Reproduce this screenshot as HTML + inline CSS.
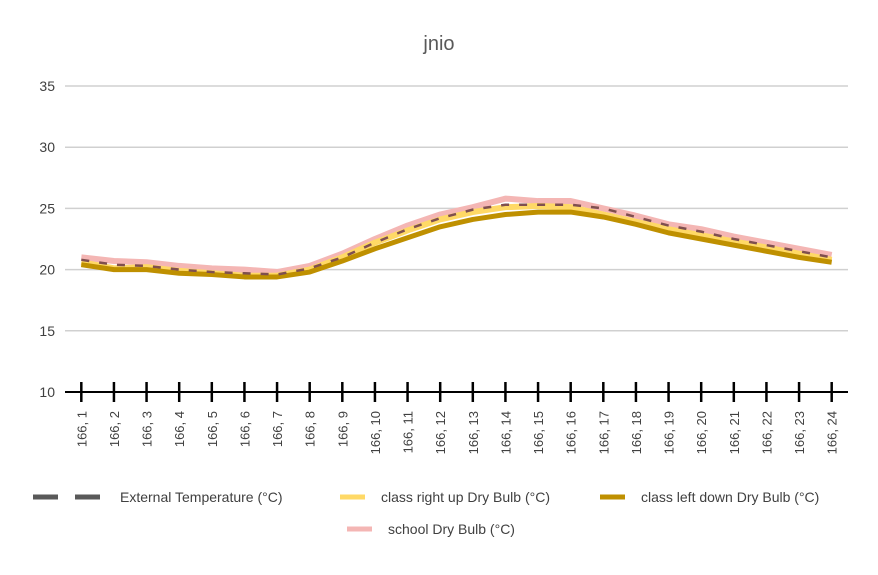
<!DOCTYPE html>
<html><head><meta charset="utf-8"><style>
body{margin:0;background:#fff;font-family:"Liberation Sans",sans-serif}
svg text{font-family:"Liberation Sans",sans-serif}
</style></head><body>
<svg id="c" width="878" height="570" xmlns="http://www.w3.org/2000/svg">
<rect width="878" height="570" fill="#fff"/>
<text x="439" y="50" text-anchor="middle" font-size="20" fill="#595959">jnio</text>
<g id="grid"></g><g id="series"></g><g id="axis"></g>
<g id="legend" font-size="14" fill="#404040">
<g><line x1="33" y1="497" x2="103" y2="497" stroke="#595959" stroke-width="5" stroke-dasharray="25,17"/><text x="120" y="502">External Temperature (°C)</text></g>
<g><line x1="340" y1="497" x2="365" y2="497" stroke="#ffd966" stroke-width="5"/><text x="381" y="502">class right up Dry Bulb (°C)</text></g>
<g><line x1="600" y1="497" x2="625" y2="497" stroke="#bf9000" stroke-width="5"/><text x="641" y="502">class left down Dry Bulb (°C)</text></g>
<g><line x1="347" y1="529" x2="372" y2="529" stroke="#f4b6b4" stroke-width="5"/><text x="388" y="534">school Dry Bulb (°C)</text></g>
</g>
</svg>
<script>
const categories=["166, 1","166, 2","166, 3","166, 4","166, 5","166, 6","166, 7","166, 8","166, 9","166, 10","166, 11","166, 12","166, 13","166, 14","166, 15","166, 16","166, 17","166, 18","166, 19","166, 20","166, 21","166, 22","166, 23","166, 24"];
const yTicks=[10,15,20,25,30,35];
const schoolVals=[21.0,20.7,20.6,20.3,20.1,20.0,19.8,20.3,21.3,22.5,23.6,24.5,25.1,25.8,25.6,25.6,25.0,24.4,23.7,23.3,22.7,22.2,21.7,21.2];
const externalVals=[20.8,20.4,20.3,20.0,19.8,19.7,19.6,20.1,21.0,22.2,23.3,24.2,24.9,25.3,25.3,25.3,25.0,24.3,23.6,23.1,22.5,22.0,21.5,21.0];
const rightUpVals=[20.6,20.1,20.2,19.9,19.7,19.5,19.5,20.0,21.0,22.2,23.2,24.1,24.7,25.1,25.2,25.1,24.5,23.9,23.3,22.8,22.3,21.8,21.3,20.8];
const leftDownVals=[20.4,20.0,20.0,19.7,19.6,19.4,19.4,19.8,20.7,21.7,22.6,23.5,24.1,24.5,24.7,24.7,24.3,23.7,23.0,22.5,22.0,21.5,21.0,20.6];
const NS="http://www.w3.org/2000/svg";
const x0=65,x1=848,yMin=10,yMax=35,py0=392,py1=86;
const step=(x1-x0)/categories.length;
function X(i){return x0+step*(i+0.5);}
function Y(v){return py0-(v-yMin)/(yMax-yMin)*(py0-py1);}
function mk(t,a,p){const e=document.createElementNS(NS,t);for(const k in a)e.setAttribute(k,a[k]);p.appendChild(e);return e;}
const grid=document.getElementById('grid'),axis=document.getElementById('axis'),ser=document.getElementById('series');
yTicks.forEach(v=>{
 if(v!==yMin){const l=mk('line',{x1:x0,x2:x1,y1:Y(v),y2:Y(v),stroke:'#d0d0d0','stroke-width':1.5},grid);
 
 }
 const t=mk('text',{x:55,y:Y(v)+5,'text-anchor':'end','font-size':14,fill:'#404040'},axis);t.textContent=v;
 
 
});
const ax=mk('line',{x1:x0,x2:x1,y1:py0,y2:py0,stroke:'#000','stroke-width':2},axis);


categories.forEach((c,i)=>{mk('line',{x1:X(i),x2:X(i),y1:py0-10,y2:py0+10,stroke:'#000','stroke-width':2.5},axis);});
categories.forEach((c,i)=>{
 const t=mk('text',{transform:`translate(${X(i)+5},${py0+19}) rotate(-90)`,'text-anchor':'end','font-size':13,fill:'#404040'},axis);t.textContent=c;
 
 
});
function line(vals,col,w,dash,name){
 const p=mk('polyline',{points:vals.map((v,i)=>X(i)+','+Y(v)).join(' '),fill:'none',stroke:col,'stroke-width':w,'stroke-linejoin':'round'},ser);
 if(dash)p.setAttribute('stroke-dasharray',dash);
 
 
}
line(schoolVals,'#f4b6b4',6,null,'series-school');
line(rightUpVals,'#ffd966',6,null,'series-class-right-up');
line(leftDownVals,'#bf9000',5,null,'series-class-left-down');
line(externalVals,'#7f4f4f',2.5,'8,10','series-external-temperature');
</script>
</body></html>
